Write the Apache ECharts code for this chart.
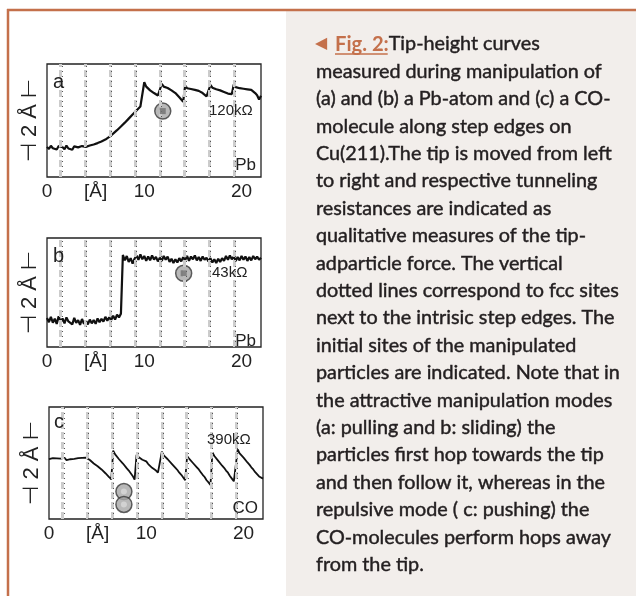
<!DOCTYPE html>
<html><head><meta charset="utf-8">
<script src="https://cdn.jsdelivr.net/npm/echarts@6/dist/echarts.min.js"></script>
<style>html,body{margin:0;padding:0;background:#fff}#c{width:636px;height:596px}</style>
</head><body><div id="c"></div><script>
// lateral tip position [Å]
const distance = [0,0.2,0.4,0.6,0.8,1,1.2,1.4,1.6,1.8,2,2.2,2.4,2.6,2.8,3,3.2,3.4,3.6,3.8,4,4.2,4.4,4.6,4.8,5,5.2,5.4,5.6,5.8,6,6.2,6.4,6.6,6.8,7,7.2,7.4,7.6,7.8,8,8.2,8.4,8.6,8.8,9,9.2,9.4,9.6,9.8,10,10.2,10.4,10.6,10.8,11,11.2,11.4,11.6,11.8,12,12.2,12.4,12.6,12.8,13,13.2,13.4,13.6,13.8,14,14.2,14.4,14.6,14.8,15,15.2,15.4,15.6,15.8,16,16.2,16.4,16.6,16.8,17,17.2,17.4,17.6,17.8,18,18.2,18.4,18.6,18.8,19,19.2,19.4,19.6,19.8,20,20.2,20.4,20.6,20.8,21,21.2,21.4,21.6,21.8,22];
// tip height [Å] (a) Pb pulling
const heightA = [1.12,1.04,1.16,1.07,1.13,1.02,1.15,1.08,1.11,1.03,1.17,1.06,1.12,1.01,1.14,1.07,1.10,1.04,1.15,1.08,1.12,
 1.09,1.17,1.12,1.21,1.16,1.26,1.22,1.32,1.28,1.39,1.36,1.49,1.47,1.61,1.60,1.74,1.73,1.88,1.86,2.02,2.01,2.17,2.16,2.32,2.31,2.47,2.46,2.62,2.64,
 3.52,3.36,3.34,3.22,3.25,3.12,3.14,3.03,3.02,
 3.46,3.36,3.40,3.31,3.33,3.22,3.24,3.12,3.10,2.96,2.92,2.80,
 3.40,3.30,3.36,3.27,3.32,3.24,3.29,3.20,3.24,3.12,3.10,3.00,2.98,
 3.42,3.32,3.36,3.26,3.30,3.22,3.25,3.16,3.19,3.10,3.13,3.08,
 3.44,3.34,3.39,3.30,3.36,3.28,3.34,3.26,3.32,3.24,3.28,3.12,3.04,2.88,3.02];
// (b) Pb sliding
const heightB = [1.08,0.92,1.12,0.90,1.05,0.86,1.14,0.94,1.06,0.88,1.10,0.95,1.02,0.84,1.08,0.90,1.00,0.82,1.04,0.86,0.98,0.84,1.02,0.88,1.00,0.86,1.06,0.92,1.05,0.94,1.12,0.98,1.10,1.00,1.16,1.02,1.20,1.10,1.24,
 3.42,3.22,3.38,3.16,3.30,3.10,3.28,3.40,3.24,3.44,
 3.26,3.38,3.20,3.36,3.22,3.40,3.25,3.35,3.18,3.32,
 3.20,3.38,3.24,3.36,3.16,3.28,3.12,3.26,3.14,3.30,
 3.18,3.34,3.22,3.38,3.20,3.36,3.26,3.40,3.22,3.34,
 3.20,3.36,3.24,3.32,3.18,3.30,3.14,3.26,3.12,3.28,
 3.16,3.30,3.20,3.38,3.24,3.40,3.26,3.36,3.20,3.34,
 3.22,3.38,3.24,3.36,3.20,3.34,3.22,3.38,3.26,3.36,
 3.24,3.32];
// (c) CO pushing
const heightC = [2.22,2.16,2.26,2.20,2.25,2.18,2.24,2.21,2.27,2.19,2.25,2.22,2.28,2.23,2.30,2.26,2.32,2.27,2.31,2.28,
 2.27,2.19,2.16,2.06,2.05,1.96,1.93,1.84,1.82,1.70,1.66,1.55,1.47,
 2.54,2.40,2.36,2.22,2.18,2.06,2.00,1.88,1.80,1.70,1.60,1.46,
 2.38,2.30,2.30,2.20,2.18,2.14,2.04,2.00,1.90,1.86,1.80,1.72,1.68,
 2.50,2.36,2.34,2.22,2.18,2.06,2.00,1.90,1.82,1.72,1.64,1.54,1.44,
 2.34,2.24,2.20,2.08,2.02,1.92,1.84,1.74,1.64,1.56,1.44,1.36,1.26,
 2.47,2.34,2.28,2.16,2.10,1.98,1.90,1.80,1.72,1.60,1.50,1.40,1.36,
 2.59,2.44,2.40,2.28,2.22,2.10,2.02,1.92,1.84,1.74,1.68,1.58,1.54,1.50];
const fccSites = [1.4,3.95,6.5,9.05,11.6,14.15,16.7,19.25];
const xTickLabels = {0:'0',5:'[Å]',10:'10',20:'20'};
const scaleBarLabel = '⊣ 2 Å ⊢';
const particleA = [[11.9,2.45]];
const particleB = [[14.05,2.74]];
const particleC = [[7.7,1.02],[7.7,0.54]];
const panelLabels = ['a','b','c'];
const resistances = ['120kΩ','43kΩ','390kΩ'];
const species = ['Pb','Pb','CO'];
const yMax = [4.2,4.05,4.16];
const captionHead = ['◀','Fig. 2:','Tip-height curves'];
const captionLines = [
 'measured during manipulation of',
 '(a) and (b) a Pb-atom and (c) a CO-',
 'molecule along step edges on',
 'Cu(211).The tip is moved from left',
 'to right and respective tunneling',
 'resistances are indicated as',
 'qualitative measures of the tip-',
 'adparticle force. The vertical',
 'dotted lines correspond to fcc sites',
 'next to the intrisic step edges. The',
 'initial sites of the manipulated',
 'particles are indicated. Note that in',
 'the attractive manipulation modes',
 '(a: pulling and b: sliding) the',
 'particles first hop towards the tip',
 'and then follow it, whereas in the',
 'repulsive mode ( c: pushing) the',
 'CO-molecules perform hops away',
 'from the tip.'
];

const heights = [heightA, heightB, heightC];
const particles = [particleA, particleB, particleC];
const grids = [
 {left:47, top:64, width:214, height:113},
 {left:47, top:238, width:214, height:109},
 {left:49, top:407, width:214, height:112}
];
const curveWidth = [2.2, 2.2, 1.8];
const axisFont = 'Liberation Sans, Arial, sans-serif';
const capFont = 'Lato';
const accent = '#c4704b';
const ink = '#231f20';

// fit caption font to the measured width of the widest line
const cv = document.createElement('canvas').getContext('2d');
cv.font = '20px ' + capFont;
const capSize = 20 * 303 / cv.measureText('dotted lines correspond to fcc sites').width;
cv.font = 'bold ' + capSize + 'px ' + capFont;
const figW = cv.measureText(captionHead[1]).width;

const xAxes = [], yAxes = [], series = [];
grids.forEach((g, i) => {
  xAxes.push({gridIndex:i, type:'value', min:0, max:22, interval:5,
    axisLine:{show:false}, axisTick:{show:false}, splitLine:{show:false},
    axisLabel:{formatter:v => xTickLabels[v] ?? '', fontSize:19, fontFamily:axisFont, color:'#222', margin:5}});
  yAxes.push({gridIndex:i, type:'value', min:0, max:yMax[i],
    axisLine:{show:false}, axisTick:{show:false}, splitLine:{show:false}, axisLabel:{show:false},
    name:scaleBarLabel, nameLocation:'middle', nameRotate:90, nameGap:6,
    nameTextStyle:{fontSize:22, fontFamily:axisFont, color:'#222'}});
  series.push({type:'line', xAxisIndex:i, yAxisIndex:i, data:[], z:1,
    markLine:{silent:true, symbol:'none', label:{show:false}, animation:false,
      lineStyle:{color:'#cccccc', width:3, type:[7,3]}, data:fccSites.map(v => ({xAxis:v}))}});
  series.push({type:'line', xAxisIndex:i, yAxisIndex:i, data:[], z:1,
    markLine:{silent:true, symbol:'none', label:{show:false}, animation:false,
      lineStyle:{color:'#555', width:1, type:[1,4]}, data:fccSites.map(v => ({xAxis:v + 0.12}))}});
  series.push({type:'line', xAxisIndex:i, yAxisIndex:i, showSymbol:false, z:3,
    lineStyle:{color:'#111', width:curveWidth[i]},
    data:distance.map((x, k) => [x, heights[i][k]])});
  series.push({type:'scatter', xAxisIndex:i, yAxisIndex:i, z:4, symbolSize:16,
    itemStyle:{color:'#a6a6a6', borderColor:'#3a3a3a', borderWidth:1.5},
    data:particles[i]});
  series.push({type:'scatter', xAxisIndex:i, yAxisIndex:i, z:5, symbolSize:6,
    symbol: i === 2 ? 'circle' : 'rect',
    itemStyle:{color: i === 2 ? '#d8d8d8' : '#707070'},
    data:particles[i]});
});

const g = [];
g.push({type:'rect', z:-10, shape:{x:286, y:11, width:350, height:585}, style:{fill:'#f2eeeb'}});
g.push({type:'line', shape:{x1:7, y1:10, x2:636, y2:10}, style:{stroke:accent, lineWidth:2.5}});
g.push({type:'line', shape:{x1:8, y1:9, x2:8, y2:596}, style:{stroke:accent, lineWidth:2.5}});
// panel annotations
const annot = [
  {t:panelLabels[0], x:53, y:82, s:20, a:'left'},
  {t:resistances[0], x:209, y:111, s:15, a:'left'},
  {t:species[0], x:256, y:165, s:17, a:'right'},
  {t:panelLabels[1], x:53, y:256, s:20, a:'left'},
  {t:resistances[1], x:212, y:273, s:15, a:'left'},
  {t:species[1], x:256, y:341, s:17, a:'right'},
  {t:panelLabels[2], x:54, y:422, s:20, a:'left'},
  {t:resistances[2], x:207, y:440, s:15, a:'left'},
  {t:species[2], x:258, y:508, s:17, a:'right'}
];
annot.forEach(o => g.push({type:'text', x:o.x, y:o.y, z:10,
  style:{text:o.t, fontSize:o.s, fontFamily:axisFont, fill:'#222', align:o.a, verticalAlign:'middle'}}));
// caption
const lh = 27.4, y0 = 44;
const thick = {stroke:ink, lineWidth:0.45};
g.push({type:'text', x:315, y:y0, style:{text:captionHead[0], fontSize:capSize*0.8, fontFamily:'DejaVu Sans', fill:accent, verticalAlign:'middle'}});
g.push({type:'text', x:335, y:y0, style:{text:captionHead[1], fontSize:capSize*1.02, fontWeight:'bold', fontFamily:capFont, fill:accent, verticalAlign:'middle'}});
g.push({type:'line', shape:{x1:335, y1:y0+10, x2:335+figW, y2:y0+10}, style:{stroke:accent, lineWidth:1.6}});
g.push({type:'text', x:335+figW+1, y:y0, style:Object.assign({text:captionHead[2], fontSize:capSize, fontFamily:capFont, fill:ink, verticalAlign:'middle'}, thick)});
captionLines.forEach((t, k) => g.push({type:'text', x:316, y:y0 + (k+1)*lh,
  style:Object.assign({text:t, fontSize:capSize, fontFamily:capFont, fill:ink, verticalAlign:'middle'}, thick)}));

const chart = echarts.init(document.getElementById('c'), null, {renderer:'canvas'});
chart.setOption({
  animation:false,
  backgroundColor:'#ffffff',
  grid:grids.map(gr => Object.assign({show:true, borderColor:'#222', borderWidth:1.3, backgroundColor:'transparent'}, gr)),
  xAxis:xAxes, yAxis:yAxes, series:series, graphic:g
});
</script></body></html>
